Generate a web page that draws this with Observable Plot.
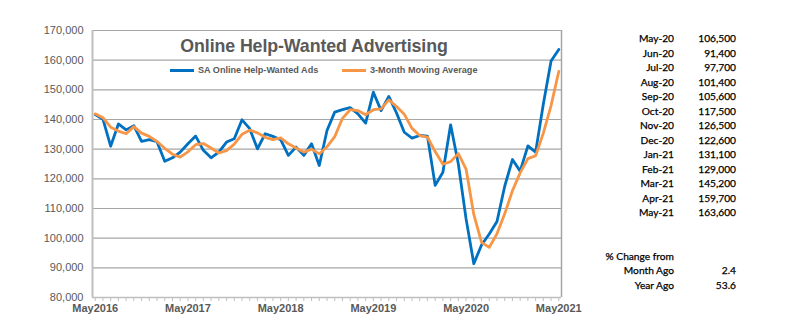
<!DOCTYPE html>
<html>
<head>
<meta charset="utf-8">
<script src="https://cdn.jsdelivr.net/npm/d3@7"></script>
<script src="https://cdn.jsdelivr.net/npm/@observablehq/plot@0.6"></script>
<style>
  html, body { margin: 0; padding: 0; background: #fff; }
  #wrap { position: relative; width: 800px; height: 335px; overflow: hidden; }
  #chart svg { display: block; }
  .title { position: absolute; left: 114px; width: 400px; top: 35px; text-align: center;
           font: bold 17.8px "Liberation Sans", Arial, sans-serif; color: #595959; line-height: 22px; letter-spacing: -0.1px; }
  .leg { position: absolute; top: 63px; height: 14px; display: flex; align-items: center;
         font: bold 9.1px "Liberation Sans", Arial, sans-serif; color: #595959; white-space: nowrap; }
  .leg .sw { display: inline-block; width: 24px; height: 3px; margin-right: 4px; }
  .tbl { position: absolute; left: 590px; top: 31px; display: grid; grid-template-columns: 84px 62px;
         font: 10.2px Lato, "Open Sans", sans-serif; color: #000; line-height: 14.5px; }
  .tbl div { text-align: right; white-space: nowrap; height: 14.5px; -webkit-text-stroke: 0.25px #000; }
</style>
</head>
<body>
<div id="wrap">
  <div id="chart"></div>
</div>
<script>
// ---- data ----
const xTickLabels = ["May2016", "May2017", "May2018", "May2019", "May2020", "May2021"];
const yTicks = [80000, 90000, 100000, 110000, 120000, 130000, 140000, 150000, 160000, 170000];

// SA Online Help-Wanted Ads, monthly May 2016 .. May 2021
const saAds = [
  141700, 140100, 131000, 138500, 136500, 137900, 132600, 133200, 132500, 125900, 127100, 129000,
  131800, 134400, 129600, 127100, 129000, 132400, 133500, 139900, 136900, 130100, 135200, 134300,
  133200, 127900, 130700, 127900, 131800, 124500, 136300, 142500, 143300, 144000, 141900, 138800,
  149200, 143000, 147800, 142200, 135700, 133700, 134600, 134400, 117800, 122200, 138200, 125000,
  106500, 91400, 97700, 101400, 105600, 117500, 126500, 122600, 131100, 129000, 145200, 159700,
  163600
];
// 3-Month Moving Average
const movAvg = [
  141900, 140600, 137400, 136100, 135200, 137600, 135400, 134300, 132600, 130300, 128300, 127300,
  129100, 131500, 131900, 130400, 128700, 129500, 131700, 135000, 136400, 135500, 134000, 133200,
  133800, 131800, 130400, 129000, 130000, 128400, 130800, 134200, 140400, 143300, 143000, 141600,
  143300, 143600, 146600, 144400, 141800, 137000, 134600, 134100, 129200, 124900, 125800, 128500,
  123300, 108000, 98600, 96900, 101500, 108200, 116000, 122000, 126800, 127800, 135400, 144700,
  156200
];
const seriesNames = ["SA Online Help-Wanted Ads", "3-Month Moving Average"];
const seriesColors = ["#0070c0", "#f79646"];
const titleText = "Online Help-Wanted Advertising";

// side table
const tableMonths = ["May-20", "Jun-20", "Jul-20", "Aug-20", "Sep-20", "Oct-20", "Nov-20",
                     "Dec-20", "Jan-21", "Feb-21", "Mar-21", "Apr-21", "May-21"];
const tableValues = [106500, 91400, 97700, 101400, 105600, 117500, 126500, 122600, 131100,
                     129000, 145200, 159700, 163600];
const pctHeader = "% Change from";
const pctLabels = ["Month Ago", "Year Ago"];
const pctValues = [2.4, 53.6];

// ---- chart ----
const data = saAds.map((v, i) => ({i, sa: v, ma: movAvg[i]}));
const xDomain = [-0.35, saAds.length - 1 + 0.35];
const monthIdx = d3.range(saAds.length);

const chart = Plot.plot({
  width: 800,
  height: 335,
  marginLeft: 92,
  marginRight: 239,
  marginTop: 30,
  marginBottom: 38,
  x: {domain: xDomain, label: null},
  y: {domain: [yTicks[0], yTicks[yTicks.length - 1]], label: null},
  style: {fontFamily: "'Liberation Sans', Arial, sans-serif", fontSize: "11px", color: "#595959", background: "#fff"},
  marks: [
    Plot.gridY(yTicks, {stroke: "#a6a6a6", strokeOpacity: 1, strokeWidth: 1.2}),
    Plot.ruleX([xDomain[0]], {stroke: "#bfbfbf", strokeWidth: 2}),
    Plot.ruleX([xDomain[1]], {stroke: "#a6a6a6", strokeWidth: 1.5}),
    Plot.ruleY([yTicks[0]], {stroke: "#bfbfbf", strokeWidth: 1.5}),
    Plot.axisY(yTicks, {tickSize: 0, tickPadding: 9, tickFormat: d3.format(","), fill: "#595959", label: null}),
    Plot.axisX(monthIdx, {
      tickSize: 4, tickPadding: 3, stroke: "#bfbfbf", fill: "#595959", fontWeight: "bold", label: null,
      tickFormat: (i) => (i % 12 === 0 ? xTickLabels[i / 12] : "")
    }),
    Plot.line(data, {x: "i", y: "sa", stroke: seriesColors[0], strokeWidth: 2.8}),
    Plot.line(data, {x: "i", y: "ma", stroke: seriesColors[1], strokeWidth: 2.8})
  ]
});
document.getElementById("chart").appendChild(chart);

const wrap = document.getElementById("wrap");
// title
const t = document.createElement("div");
t.className = "title";
t.textContent = titleText;
wrap.appendChild(t);
// legend
const legLeft = [170, 342];
seriesNames.forEach((name, k) => {
  const d = document.createElement("div");
  d.className = "leg";
  d.style.left = legLeft[k] + "px";
  const sw = document.createElement("span");
  sw.className = "sw";
  sw.style.background = seriesColors[k];
  d.appendChild(sw);
  d.appendChild(document.createTextNode(name));
  wrap.appendChild(d);
});
// table
const tbl = document.createElement("div");
tbl.className = "tbl";
const addRow = (a, b) => {
  const c1 = document.createElement("div"); c1.textContent = a;
  const c2 = document.createElement("div"); c2.textContent = b;
  tbl.appendChild(c1); tbl.appendChild(c2);
};
tableMonths.forEach((m, k) => addRow(m, d3.format(",")(tableValues[k])));
addRow("", ""); addRow("", "");
addRow(pctHeader, "");
pctLabels.forEach((l, k) => addRow(l, d3.format(".1f")(pctValues[k])));
wrap.appendChild(tbl);
</script>
</body>
</html>
